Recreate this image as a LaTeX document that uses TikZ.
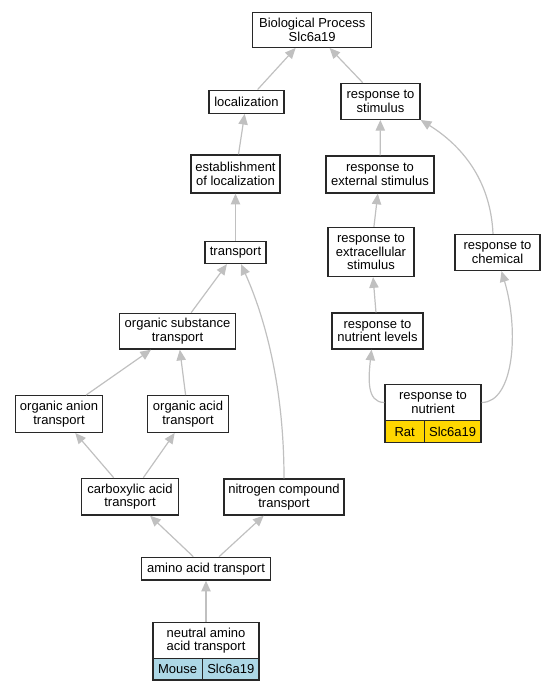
\documentclass[tikz,border=0pt]{standalone}
\usepackage{fontspec}
\setmainfont{Liberation Sans}
\usetikzlibrary{arrows.meta,calc}
\definecolor{edgegray}{RGB}{192,192,192}
\definecolor{bordergray}{RGB}{40,40,40}
\definecolor{mouseblue}{RGB}{173,216,230}
\definecolor{ratgold}{RGB}{255,215,0}
\begin{document}
\begin{tikzpicture}[x=0.75pt,y=-0.75pt,
  term/.style={draw=bordergray, line width=1pt, fill=white, align=center, inner sep=0pt, font=\fontsize{9.75}{10}\selectfont},
  sz/.style 2 args={minimum width=#1*0.75pt, minimum height=#2*0.75pt},
  edge/.style={draw=edgegray, line width=0.9pt, -{Triangle[length=8pt,width=7pt]}}]
\useasboundingbox (0,0) rectangle (549,691);

\node[term, sz={119}{35}] (bp) at (312.2,29.8) {Biological Process\\Slc6a19};
\node[term, sz={75}{23}] (loc) at (246.5,101.7) {localization};
\node[term, sz={79}{36}] (rstim) at (380.5,101.3) {response to\\stimulus};
\node[term, sz={89}{38}] (estab) at (235.5,174) {establishment\\of localization};
\node[term, sz={108}{37}] (rext) at (380,174.5) {response to\\external stimulus};
\node[term, sz={61}{22}] (transport) at (235.5,252.5) {transport};
\node[term, sz={86}{49}] (rextra) at (371,252) {response to\\extracellular\\stimulus};
\node[term, sz={85}{36}] (rchem) at (497.5,252.5) {response to\\chemical};
\node[term, sz={116.4}{35.7}] (orgsub) at (177.5,331.2) {organic substance\\transport};
\node[term, sz={91}{36}] (rnutlev) at (377.5,331) {response to\\nutrient levels};
\node[term, sz={86.6}{36.6}] (anion) at (59,414) {organic anion\\transport};
\node[term, sz={80.6}{36.6}] (acid) at (188,414) {organic acid\\transport};
\node[term, sz={96.6}{36.7}] (carbox) at (130,496.7) {carboxylic acid\\transport};
\node[term, sz={120}{36}] (nitro) at (284,497) {nitrogen compound\\transport};
\node[term, sz={128.4}{22.7}] (amino) at (206,568.7) {amino acid transport};

% response to nutrient (Rat)
\node[term, sz={96}{36.4}] (rnut) at (433,402.5) {response to\\nutrient};
\node[term, sz={39.3}{22}, fill=ratgold] (rnutA) at (404.65,431.7) {Rat};
\node[term, sz={56.7}{22}, fill=ratgold] (rnutB) at (452.65,431.7) {Slc6a19};

% neutral amino acid transport (Mouse)
\node[term, sz={106.3}{35.6}] (neutral) at (206,640.5) {neutral amino\\acid transport};
\node[term, sz={49.6}{21.7}, fill=mouseblue] (neutralA) at (177.65,669.15) {Mouse};
\node[term, sz={56.7}{21.7}, fill=mouseblue] (neutralB) at (230.8,669.15) {Slc6a19};

% edges
\draw[edge] (loc) -- (bp);
\draw[edge] (rstim) -- (bp);
\draw[edge] (estab) -- (loc);
\draw[edge] (transport) -- (estab);
\draw[edge] (orgsub) -- (transport);
\draw[edge] (nitro.north) .. controls ($(nitro.north)+(0,-95)$) and ($(transport.south)+(28,50)$) .. ($(transport.south)+(5.5,0)$);
\draw[edge] (anion) -- (orgsub);
\draw[edge] (acid) -- (orgsub);
\draw[edge] (carbox) -- (anion);
\draw[edge] (carbox) -- (acid);
\draw[edge] (amino) -- (carbox);
\draw[edge] (amino) -- (nitro);
\draw[edge] (neutral) -- (amino);
\draw[edge] (rext) -- (rstim);
\draw[edge] (rextra) -- (rext);
\draw[edge] (rnutlev) -- (rextra);
\draw[edge] (rnut.west) .. controls ($(rnut.west)+(-18,0)$) and ($(rnutlev.south)+(-9,28)$) .. ($(rnutlev.south)+(-6,0)$);
\draw[edge] (rnut.east) .. controls ($(rnut.east)+(32,0)$) and ($(rchem.south)+(22,60)$) .. ($(rchem.south)+(4,0)$);
\draw[edge] ($(rchem.north)+(-4.5,0)$) .. controls ($(rchem.north)+(-7,-55)$) and ($(rstim.south east)+(40,25)$) .. (rstim.south east);
\end{tikzpicture}
\end{document}
